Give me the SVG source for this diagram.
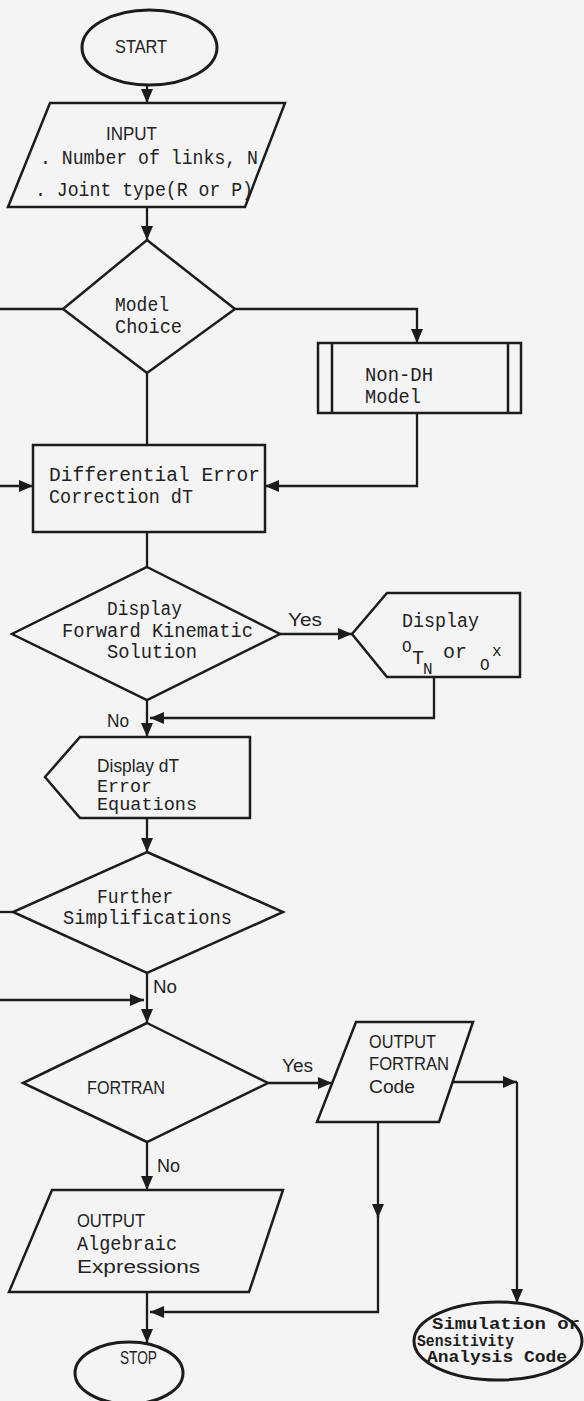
<svg xmlns="http://www.w3.org/2000/svg" width="584" height="1401" viewBox="0 0 584 1401">
<defs>
<marker id="ah" viewBox="0 0 14 12" refX="14" refY="6" markerWidth="14" markerHeight="12" markerUnits="userSpaceOnUse" orient="auto">
<path d="M0,0 L14,6 L0,12 z" fill="#1c1c1c"/>
</marker>
<style>
.s{fill:none;stroke:#1c1c1c;stroke-width:2.5;stroke-linejoin:miter}
.e{fill:none;stroke:#1c1c1c;stroke-width:3}
.c{fill:none;stroke:#1c1c1c;stroke-width:2.3;marker-end:url(#ah)}
.l{fill:none;stroke:#1c1c1c;stroke-width:2.3}
.m{font-family:"Liberation Mono","DejaVu Sans Mono",monospace;font-size:20px;fill:#222}
.n{font-family:"Liberation Mono","DejaVu Sans Mono",monospace;font-size:18px;fill:#222}
.t{font-family:"Liberation Sans",Arial,sans-serif;font-size:18px;fill:#222}
.b{font-family:"Liberation Mono","DejaVu Sans Mono",monospace;font-size:16px;fill:#1c1c1c;font-weight:bold}
</style>
</defs>
<rect width="584" height="1401" fill="#f4f4f4"/>
<g id="connectors">
<path class="c" d="M147,85 L147,103"/>
<path class="c" d="M147,207 L147,240"/>
<path class="l" d="M0,309 L63,309"/>
<path class="c" d="M235,309 L417,309 L417,343"/>
<path class="l" d="M147,373 L147,445"/>
<path class="c" d="M417,413 L417,486 L265,486"/>
<path class="c" d="M0,486 L33,486"/>
<path class="l" d="M147,532 L147,567"/>
<path class="c" d="M280,634 L352,634"/>
<path class="c" d="M434,677 L434,718 L150,718"/>
<path class="c" d="M147,700 L147,737"/>
<path class="c" d="M147,818 L147,852"/>
<path class="l" d="M0,912 L13,912"/>
<path class="c" d="M147,973 L147,1023"/>
<path class="c" d="M0,1000 L144,1000"/>
<path class="c" d="M268,1083 L332,1083"/>
<path class="c" d="M453,1082 L517,1082"/>
<path class="c" d="M517,1082 L517,1303"/>
<path class="c" d="M378,1122 L378,1218"/>
<path class="c" d="M378,1216 L378,1312 L150,1312"/>
<path class="c" d="M147,1142 L147,1190"/>
<path class="c" d="M147,1292 L147,1343"/>
<text class="t" x="288" y="626" textLength="34" lengthAdjust="spacingAndGlyphs">Yes</text>
<text class="t" x="107" y="727" textLength="22" lengthAdjust="spacingAndGlyphs">No</text>
<text class="t" x="153" y="993" textLength="24" lengthAdjust="spacingAndGlyphs">No</text>
<text class="t" x="282" y="1072" textLength="31" lengthAdjust="spacingAndGlyphs">Yes</text>
<text class="t" x="157" y="1172" textLength="23" lengthAdjust="spacingAndGlyphs">No</text>
</g>
<g id="start">
<ellipse class="e" cx="149.5" cy="47.5" rx="67.5" ry="37.5"/>
<text class="t" x="115" y="53" textLength="52" lengthAdjust="spacingAndGlyphs">START</text>
</g>
<g id="input">
<path class="s" d="M50,103 L285,103 L245,207 L8,207 Z"/>
<text class="t" x="106" y="140" textLength="51" lengthAdjust="spacingAndGlyphs">INPUT</text>
<text class="m" x="40" y="164" textLength="218" lengthAdjust="spacingAndGlyphs">. Number of links, N</text>
<text class="m" x="35" y="196" textLength="218" lengthAdjust="spacingAndGlyphs">. Joint type(R or P)</text>
</g>
<g id="model-choice">
<path class="s" d="M147,240 L235,309 L147,373 L63,309 Z"/>
<text class="m" x="115" y="311" textLength="54" lengthAdjust="spacingAndGlyphs">Model</text>
<text class="m" x="115" y="333" textLength="67" lengthAdjust="spacingAndGlyphs">Choice</text>
</g>
<g id="non-dh">
<rect class="s" x="318" y="343" width="203" height="70"/>
<path class="s" d="M332,343 L332,413 M508,343 L508,413"/>
<text class="m" x="365" y="381" textLength="68" lengthAdjust="spacingAndGlyphs">Non-DH</text>
<text class="m" x="365" y="403" textLength="56" lengthAdjust="spacingAndGlyphs">Model</text>
</g>
<g id="diff-error">
<rect class="s" x="33" y="445" width="232" height="87"/>
<text class="m" x="49" y="481" textLength="211" lengthAdjust="spacingAndGlyphs">Differential Error</text>
<text class="m" x="49" y="503" textLength="144" lengthAdjust="spacingAndGlyphs">Correction dT</text>
</g>
<g id="fk-decision">
<path class="s" d="M147,567 L280,634 L147,700 L12,634 Z"/>
<text class="m" x="107" y="615" textLength="75" lengthAdjust="spacingAndGlyphs">Display</text>
<text class="m" x="62" y="637" textLength="191" lengthAdjust="spacingAndGlyphs">Forward Kinematic</text>
<text class="m" x="107" y="658" textLength="90" lengthAdjust="spacingAndGlyphs">Solution</text>
</g>
<g id="display-tn">
<path class="s" d="M352,634 L387,593 L520,593 L520,677 L387,677 Z"/>
<text class="m" x="402" y="627" textLength="77" lengthAdjust="spacingAndGlyphs">Display</text>
<text class="n" style="font-size:16px" x="402" y="652">O</text>
<text class="m" x="412" y="664">T</text>
<text class="n" style="font-size:16px" x="423" y="674">N</text>
<text class="m" x="443" y="658">or</text>
<text class="n" style="font-size:16px" x="480" y="670">O</text>
<text class="n" style="font-size:16px" x="492" y="656">x</text>
</g>
<g id="display-dt">
<path class="s" d="M45,777 L80,737 L250,737 L250,818 L80,818 Z"/>
<text class="t" x="97" y="772" textLength="82" lengthAdjust="spacingAndGlyphs">Display dT</text>
<text class="n" x="97" y="792" textLength="55" lengthAdjust="spacingAndGlyphs">Error</text>
<text class="n" x="97" y="810" textLength="100" lengthAdjust="spacingAndGlyphs">Equations</text>
</g>
<g id="further">
<path class="s" d="M147,852 L283,912 L147,973 L13,912 Z"/>
<text class="m" x="97" y="903" textLength="76" lengthAdjust="spacingAndGlyphs">Further</text>
<text class="m" x="63" y="924" textLength="169" lengthAdjust="spacingAndGlyphs">Simplifications</text>
</g>
<g id="fortran">
<path class="s" d="M147,1023 L268,1083 L147,1142 L23,1083 Z"/>
<text class="t" x="87" y="1094" textLength="78" lengthAdjust="spacingAndGlyphs">FORTRAN</text>
</g>
<g id="output-fortran">
<path class="s" d="M356,1022 L473,1022 L439,1122 L317,1122 Z"/>
<text class="t" x="369" y="1048" textLength="67" lengthAdjust="spacingAndGlyphs">OUTPUT</text>
<text class="t" x="369" y="1070" textLength="80" lengthAdjust="spacingAndGlyphs">FORTRAN</text>
<text class="t" x="369" y="1093" textLength="46" lengthAdjust="spacingAndGlyphs">Code</text>
</g>
<g id="output-algebraic">
<path class="s" d="M52,1190 L283,1190 L249,1292 L9,1292 Z"/>
<text class="t" x="77" y="1227" textLength="68" lengthAdjust="spacingAndGlyphs">OUTPUT</text>
<text class="m" x="77" y="1250" textLength="100" lengthAdjust="spacingAndGlyphs">Algebraic</text>
<text class="t" x="77" y="1273" textLength="123" lengthAdjust="spacingAndGlyphs">Expressions</text>
</g>
<g id="stop">
<ellipse class="e" cx="129" cy="1373" rx="54" ry="31"/>
<text class="t" x="120" y="1364" textLength="37" lengthAdjust="spacingAndGlyphs">STOP</text>
</g>
<g id="simulation">
<ellipse class="e" cx="498" cy="1341" rx="84" ry="39"/>
<text class="b" x="432" y="1329" textLength="148" lengthAdjust="spacingAndGlyphs">Simulation or</text>
<text class="b" x="417" y="1346" textLength="97" lengthAdjust="spacingAndGlyphs">Sensitivity</text>
<text class="b" x="427" y="1362" textLength="140" lengthAdjust="spacingAndGlyphs">Analysis Code</text>
</g>
</svg>
